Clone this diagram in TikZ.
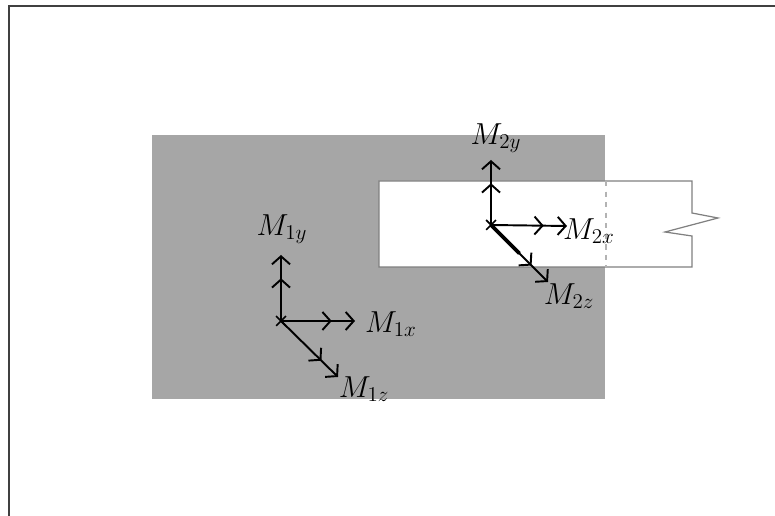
\documentclass[tikz,border=0pt]{standalone}
\usetikzlibrary{arrows.meta,shapes.misc,calc}
\definecolor{PlateGray}{RGB}{166,166,166}
\definecolor{EdgeGray}{RGB}{128,128,128}
\definecolor{FrameGray}{RGB}{64,64,64}
\tikzset{
  plate/.style={fill=PlateGray,draw=none},
  beam/.style={fill=white,draw=EdgeGray,line width=0.7pt},
  hidden/.style={draw=EdgeGray!60,dashed,line width=0.6pt},
  moment/.style={line width=1.1pt,-{Straight Barb[length=1.6mm,width=3.6mm,sep=2.6mm]Straight Barb[length=1.6mm,width=3.6mm]}},
  origin/.style={cross out,draw,line width=1pt,minimum size=1.6mm,inner sep=0pt},
  lbl/.style={font=\fontsize{18}{21}\selectfont,inner sep=0pt},
}
\begin{document}
\begin{tikzpicture}[x=0.02cm,y=-0.02cm]
  \useasboundingbox (0,0) rectangle (775,516);
  % frame
  \draw[FrameGray,line width=1pt] (775,6) -- (9,6) -- (9,516);
  % plate and beam
  \fill[plate] (152,135) rectangle (605,399);
  \draw[beam] (379,181) -- (692,181) -- (692,213) -- (718,218) -- (665,232) -- (692,236) -- (692,267) -- (379,267) -- cycle;
  \draw[hidden] (606,181) -- (606,267);
  % joint 1
  \node[origin] (o1) at (281,321) {};
  \coordinate (y1) at (281,255);
  \coordinate (x1) at (355,321);
  \coordinate (z1) at (338,377);
  \draw[moment] (o1.center) -- (y1);
  \draw[moment] (o1.center) -- (x1);
  \draw[moment] (o1.center) -- (z1);
  \node[lbl] (m1y) at (282,229) {$M_{1y}$};
  \node[lbl] (m1x) at (391,324) {$M_{1x}$};
  \node[lbl] (m1z) at (364,389) {$M_{1z}$};
  % joint 2
  \node[origin] (o2) at (491,225) {};
  \coordinate (y2) at (491,160);
  \coordinate (x2) at (567,226);
  \coordinate (z2) at (548,282);
  \draw[moment] (o2.center) -- (y2);
  \draw[moment] (o2.center) -- (x2);
  \draw[moment] (o2.center) -- (z2);
  \draw[line width=2.2pt] (o2.center) -- ($(o2)!0.5!(z2)$);
  \node[lbl] (m2y) at (496,138) {$M_{2y}$};
  \node[lbl] (m2x) at (589,231) {$M_{2x}$};
  \node[lbl] (m2z) at (569,296) {$M_{2z}$};
\end{tikzpicture}
\end{document}
